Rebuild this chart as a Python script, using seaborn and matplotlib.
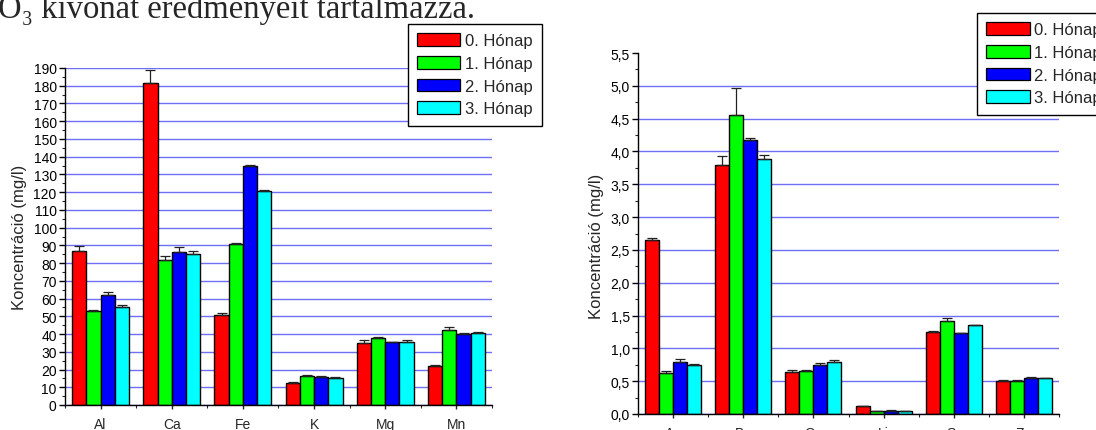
import numpy as np
import pandas as pd
import matplotlib
matplotlib.use("Agg")
import matplotlib.pyplot as plt
import matplotlib.ticker as mticker
import seaborn as sns

# Data
honap = ["0. Hónap", "1. Hónap", "2. Hónap", "3. Hónap"]
colors = ["#ff0000", "#00ff00", "#0000ff", "#00ffff"]

elem_left = ["Al", "Ca", "Fe", "K", "Mg", "Mn"]
left_vals = [
    [87.0, 181.5, 50.5, 12.6, 35.1, 22.0],    # 0. Hónap
    [53.0, 82.0, 90.5, 16.5, 37.8, 42.5],     # 1. Hónap
    [62.0, 86.5, 134.5, 16.0, 35.3, 40.0],    # 2. Hónap
    [55.5, 85.0, 120.5, 15.4, 35.3, 40.4],    # 3. Hónap
]
left_err = [
    [2.5, 7.5, 1.5, 0.2, 1.5, 0.3],
    [0.5, 2.0, 1.0, 0.2, 0.4, 1.2],
    [1.5, 2.5, 1.0, 0.2, 0.3, 0.5],
    [1.0, 2.0, 0.5, 0.2, 1.3, 0.5],
]

elem_right = ["As", "Ba", "Cu", "Li", "Sr", "Zn"]
right_vals = [
    [2.65, 3.79, 0.645, 0.117, 1.255, 0.508],
    [0.63, 4.55, 0.66, 0.04, 1.418, 0.505],
    [0.79, 4.18, 0.75, 0.05, 1.23, 0.553],
    [0.75, 3.89, 0.79, 0.04, 1.35, 0.544],
]
right_err = [
    [0.03, 0.14, 0.03, 0.005, 0.01, 0.01],
    [0.02, 0.41, 0.01, 0.005, 0.04, 0.01],
    [0.05, 0.02, 0.02, 0.005, 0.01, 0.01],
    [0.01, 0.05, 0.03, 0.005, 0.01, 0.01],
]

left_yticks = list(range(0, 191, 10))
right_yticks = [0.0, 0.5, 1.0, 1.5, 2.0, 2.5, 3.0, 3.5, 4.0, 4.5, 5.0, 5.5]

sns.set_style("white")
plt.rcParams["font.family"] = ["Liberation Sans", "DejaVu Sans"]

W, H = 1096, 431
fig = plt.figure(figsize=(W / 100, H / 100), dpi=100)
ax1 = fig.add_axes([65 / W, 1 - 406 / H, 427 / W, 337 / H])
ax2 = fig.add_axes([638 / W, 1 - 415 / H, 421 / W, 361 / H])


def long_df(elems, vals):
    rows = []
    for h, v in zip(honap, vals):
        for e, x in zip(elems, v):
            rows.append({"elem": e, "honap": h, "conc": x})
    return pd.DataFrame(rows)


def draw(ax, elems, vals, errs, yticks, yminor, fmt, legend_anchor, legend_loc):
    df = long_df(elems, vals)
    sns.barplot(data=df, x="elem", y="conc", hue="honap", palette=colors,
                errorbar=None, width=0.8, gap=0, saturation=1,
                edgecolor="black", linewidth=1.0, ax=ax)
    # upper error bars on each bar
    for cont, err in zip(ax.containers, errs):
        xs = [b.get_x() + b.get_width() / 2 for b in cont]
        ys = [b.get_height() for b in cont]
        ax.errorbar(xs, ys, yerr=[np.zeros(len(err)), err], fmt="none",
                    ecolor="#222222", elinewidth=0.9, capsize=3.5, capthick=0.9, zorder=5)
    ax.set_xlim(-0.5, len(elems) - 0.5)
    ax.set_ylim(0, yticks[-1])
    ax.set_yticks(yticks)
    ax.yaxis.set_minor_locator(mticker.MultipleLocator(yminor))
    ax.yaxis.set_major_formatter(mticker.FuncFormatter(fmt))
    ax.xaxis.set_minor_locator(mticker.FixedLocator(np.arange(-0.5, len(elems), 1.0)))
    ax.set_axisbelow(True)
    ax.yaxis.grid(True, color="#6f6ff5", linewidth=1.0)
    ax.xaxis.grid(False)
    for s in ["top", "right"]:
        ax.spines[s].set_visible(False)
    for s in ["left", "bottom"]:
        ax.spines[s].set_color("black")
        ax.spines[s].set_linewidth(1.0)
    ax.tick_params(axis="y", which="major", direction="out", length=4, width=1,
                   labelsize=10, pad=2, left=True, colors="black")
    ax.tick_params(axis="y", which="minor", direction="out", length=2.5, width=0.8, left=True)
    ax.tick_params(axis="x", which="major", direction="out", length=3, width=1,
                   labelsize=10, pad=5.5, bottom=True)
    ax.tick_params(axis="x", which="minor", direction="out", length=2, width=0.8, bottom=True)
    ax.set_xlabel("")
    ax.set_ylabel("Koncentráció (mg/l)", fontsize=12)
    sns.move_legend(ax, legend_loc, bbox_to_anchor=legend_anchor,
                    bbox_transform=fig.transFigure, title=None, frameon=True,
                    fancybox=False, edgecolor="black", framealpha=1,
                    fontsize=12, handlelength=2.6, handleheight=0.8,
                    labelspacing=0.45, handletextpad=0.3, borderpad=0.55,
                    borderaxespad=0)
    leg = ax.get_legend()
    leg.get_frame().set_linewidth(1.0)
    for p in leg.get_patches():
        p.set_edgecolor("black")
        p.set_linewidth(0.9)
    leg.set_zorder(10)


draw(ax1, elem_left, left_vals, left_err, left_yticks, 5,
     lambda v, p: f"{v:.0f}", (542 / W, 1 - 25 / H), "upper right")
draw(ax2, elem_right, right_vals, right_err, right_yticks, 0.25,
     lambda v, p: f"{v:.1f}".replace(".", ","), (977 / W, 1 - 14 / H), "upper left")

ax1.yaxis.set_label_coords((27 - 65) / 427, 0.5)
ax2.yaxis.set_label_coords((604 - 638) / 421, 0.468)
# no grid line at the top of the right panel
ax2.get_ygridlines()[-1].set_visible(False)

fig.text(-2 / W, 1 - 18 / H, "O₃ kivonat eredményeit tartalmazza.",
         family=["Liberation Serif", "DejaVu Serif"], fontsize=23.5, va="baseline", ha="left")

fig.savefig("out.png", dpi=100)
